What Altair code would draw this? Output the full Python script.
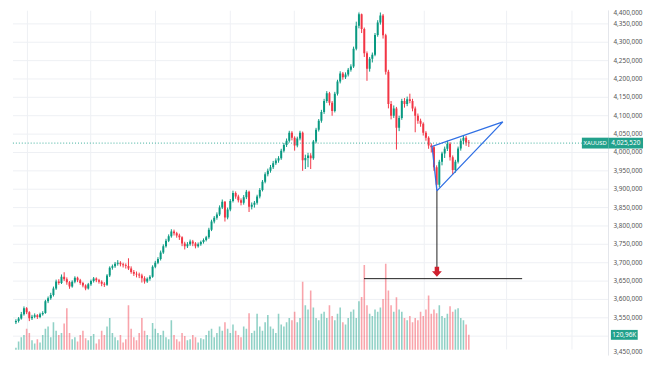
import altair as alt
import pandas as pd

# ---------------- data ----------------
first_open = 3538.0
closes = [3541, 3548, 3560, 3576, 3565, 3549, 3553, 3557, 3552, 3560,
          3563, 3595, 3603, 3612, 3630, 3649, 3645, 3662, 3655, 3647,
          3635, 3648, 3659, 3652, 3645, 3638, 3630, 3641, 3650, 3657,
          3652, 3648, 3643, 3640, 3665, 3686, 3690, 3697, 3700, 3696,
          3693, 3691, 3684, 3675, 3670, 3668, 3665, 3658, 3649, 3656,
          3662, 3689, 3700, 3710, 3728, 3745, 3760, 3772, 3785, 3780,
          3774, 3769, 3752, 3745, 3750, 3758, 3752, 3745, 3750, 3756,
          3762, 3769, 3790, 3812, 3822, 3831, 3850, 3866, 3823, 3845,
          3868, 3890, 3880, 3870, 3863, 3878, 3893, 3852, 3858, 3863,
          3880, 3898, 3920, 3941, 3950, 3960, 3971, 3978, 3984, 4005,
          4020, 4032, 4054, 4040, 4019, 4038, 4054, 3979, 3985, 3992,
          3984, 4030, 4062, 4086, 4110, 4140, 4161, 4135, 4113, 4160,
          4193, 4215, 4205, 4212, 4225, 4234, 4282, 4345, 4376, 4336,
          4270, 4228, 4255, 4266, 4320, 4354, 4373, 4319, 4220, 4132,
          4100, 4120, 4067, 4094, 4140, 4132, 4145, 4140, 4120, 4100,
          4086, 4078, 4054, 4040, 4019, 4014, 3960, 3912, 3975, 3997,
          4010, 4024, 3987, 3952, 3975, 4011, 4032, 4040, 4027, 4025.52]
highs = [3546, 3552, 3566, 3581, 3579, 3568, 3558, 3562, 3560, 3564,
         3568, 3599, 3608, 3618, 3635, 3654, 3655, 3668, 3674, 3660,
         3650, 3652, 3663, 3662, 3656, 3648, 3641, 3645, 3654, 3661,
         3660, 3656, 3652, 3647, 3669, 3690, 3695, 3702, 3707, 3704,
         3700, 3698, 3712, 3690, 3680, 3676, 3673, 3670, 3663, 3660,
         3666, 3693, 3705, 3715, 3733, 3750, 3765, 3777, 3791, 3790,
         3784, 3779, 3772, 3757, 3756, 3763, 3762, 3756, 3755, 3760,
         3766, 3773, 3795, 3817, 3827, 3837, 3856, 3872, 3868, 3850,
         3873, 3896, 3894, 3885, 3875, 3884, 3898, 3896, 3864, 3868,
         3885, 3903, 3925, 3946, 3956, 3966, 3977, 3984, 3990, 4010,
         4026, 4038, 4059, 4058, 4044, 4043, 4059, 4057, 3994, 3999,
         3998, 4034, 4067, 4091, 4116, 4146, 4167, 4165, 4140, 4165,
         4198, 4221, 4219, 4218, 4230, 4240, 4288, 4356, 4381, 4378,
         4340, 4275, 4260, 4272, 4325, 4360, 4381, 4377, 4323, 4225,
         4140, 4128, 4124, 4100, 4146, 4148, 4152, 4160, 4146, 4125,
         4106, 4092, 4082, 4058, 4044, 4025, 4018, 3965, 3980, 4002,
         4016, 4032, 4028, 3992, 3980, 4016, 4038, 4046, 4045, 4034]
lows = [3533, 3537, 3545, 3556, 3560, 3541, 3544, 3549, 3547, 3549,
        3556, 3561, 3590, 3599, 3608, 3626, 3640, 3642, 3650, 3640,
        3629, 3632, 3644, 3647, 3640, 3633, 3625, 3627, 3637, 3646,
        3647, 3643, 3636, 3634, 3637, 3661, 3681, 3686, 3692, 3690,
        3687, 3684, 3680, 3670, 3664, 3660, 3658, 3646, 3643, 3645,
        3651, 3659, 3685, 3696, 3706, 3724, 3741, 3756, 3768, 3774,
        3768, 3762, 3745, 3736, 3740, 3746, 3745, 3739, 3741, 3746,
        3752, 3758, 3765, 3786, 3807, 3817, 3827, 3846, 3812, 3818,
        3840, 3864, 3874, 3864, 3856, 3858, 3873, 3838, 3845, 3850,
        3858, 3875, 3894, 3916, 3935, 3945, 3955, 3966, 3972, 3980,
        4000, 4015, 4027, 4033, 4005, 4014, 4033, 3950, 3955, 3960,
        3955, 3980, 4025, 4057, 4081, 4105, 4135, 4128, 4100, 4109,
        4155, 4188, 4198, 4200, 4207, 4220, 4230, 4278, 4338, 4325,
        4260, 4195, 4220, 4245, 4262, 4315, 4348, 4310, 4212, 4120,
        4090, 4094, 4008, 4058, 4089, 4122, 4126, 4134, 4112, 4055,
        4078, 4070, 4046, 4032, 4010, 4000, 3950, 3897, 3905, 3965,
        3985, 4004, 3978, 3940, 3945, 3970, 4005, 4022, 4018, 4015]
volumes_k = [60, 90, 110, 120, 150, 130, 95, 80, 100, 85,
             120, 150, 160, 110, 180, 140, 120, 130, 175, 246,
             130, 100, 110, 90, 120, 140, 105, 95, 115, 125,
             80, 100, 140, 120, 160, 200, 130, 110, 95, 120,
             85, 100, 260, 150, 110, 95, 130, 200, 140, 120,
             100, 177, 150, 130, 120, 140, 110, 100, 190, 120,
             100, 90, 130, 115, 95, 100, 120, 110, 85, 105,
             100, 120, 140, 150, 110, 130, 160, 140, 180, 150,
             130, 170, 140, 120, 110, 160, 150, 223, 130, 140,
             220, 160, 140, 180, 215, 160, 150, 130, 220, 170,
             160, 180, 200, 190, 230, 180, 200, 372, 260, 240,
             330, 250, 200, 190, 220, 230, 200, 260, 210, 190,
             220, 250, 180, 170, 200, 230, 240, 200, 280, 300,
             451, 260, 220, 210, 240, 230, 250, 290, 456, 330,
             260, 230, 298, 240, 230, 200, 190, 210, 180, 200,
             190, 230, 210, 240, 307, 220, 240, 223, 260, 210,
             200, 220, 256, 230, 240, 246, 200, 190, 170, 121]

price_ticks = list(range(3450, 4401, 50))
hidden_labels = [3500]          # covered by the volume tag in the original
vgrid_idx = [4.3, 27.9, 52.1, 80.0, 103.9, 128.1, 152.4, 183.1, 207.5]

wedge_idx = [157.1, 155.3, 181.7, 157.1]
wedge_price = [3895.4, 4016.2, 4083.3, 3895.4]
target_price = 3656.6
target_idx = [129.9, 188.9]
drop_idx = 157.1
drop_from = 3895.4
drop_to = 3686.0
arrow_price = 3675.4
last_price = 4025.52
last_volume = 120.96

# ---------------- geometry ----------------
ORIGIN_X = 3          # observed page x of the svg's left edge
PADL = 5
W, H = 612 - ORIGIN_X - PADL, 344
step = 467 / 169
kpx = 0.3726
# page x of candle i = 6 + step*i
x0 = ORIGIN_X + PADL
xdom = [(x0 - 6) / step, (x0 + W - 6) / step]
# page y of price p = 3 + (4400 - p) * kpx ; chart origin at page y = 8
ydom = [4400 - (H + 5) / kpx, 4400 - 5 / kpx]
# volume: zero volume at page y 363 (chart y 355), 0.215 px per K
vpx = 0.215
vbase = 355
vdom = [(vbase - H) / vpx, vbase / vpx]

UP = "#089981"
DN = "#f23645"
TAG = "#22a18c"

opens = [first_open] + closes[:-1]
df = pd.DataFrame({
    "i": list(range(len(closes))),
    "open": opens, "close": closes, "high": highs, "low": lows,
    "vol": volumes_k,
})
df["dir"] = ["up" if c >= o else "down" for o, c in zip(opens, closes)]


def X(f):
    return alt.X(f, type="quantitative", scale=alt.Scale(domain=xdom, nice=False, zero=False), axis=None)


def Y(f):
    return alt.Y(f, type="quantitative", scale=alt.Scale(domain=ydom, nice=False, zero=False), axis=None)


def V(f):
    return alt.Y(f, type="quantitative", scale=alt.Scale(domain=vdom, nice=False, zero=False), axis=None)


color = alt.Color("dir:N", scale=alt.Scale(domain=["up", "down"], range=[UP, DN]), legend=None)

ticks_df = pd.DataFrame({"p": price_ticks,
                         "label": [f"{t:,.3f}".replace(".", ",") for t in price_ticks]})
lab_df = ticks_df[~ticks_df["p"].isin(hidden_labels)]
vgrid_df = pd.DataFrame({"i": vgrid_idx})

hgrid = alt.Chart(ticks_df).mark_rule(color="#eef0f4", strokeWidth=1, clip=True).encode(
    y=Y("p"), x=alt.value(0), x2=alt.value(W))
vgrid = alt.Chart(vgrid_df).mark_rule(color="#eef0f4", strokeWidth=1, clip=True).encode(
    x=X("i"), y=alt.value(0), y2=alt.value(H))
sep = alt.Chart(pd.DataFrame({"a": [0]})).mark_rule(color="#e4e6eb").encode(
    x=alt.value(W), y=alt.value(0), y2=alt.value(H + 6))

vol = alt.Chart(df).mark_bar(width=1.6, opacity=0.45, clip=True).encode(
    x=X("i"), y=V("vol"), y2=alt.value(H), color=color)

wick = alt.Chart(df).mark_rule(strokeWidth=1, clip=True).encode(
    x=X("i"), y=Y("low"), y2=alt.Y2("high"), color=color)
body = alt.Chart(df).mark_bar(width=2, clip=True).encode(
    x=X("i"), y=Y("open"), y2=alt.Y2("close"), color=color)

last_df = pd.DataFrame({"p": [last_price]})
lastline = alt.Chart(last_df).mark_rule(color=UP, strokeDash=[1, 2], strokeWidth=1, opacity=0.8).encode(
    y=Y("p"), x=alt.value(0), x2=alt.value(W))

wedge_df = pd.DataFrame({"i": wedge_idx, "p": wedge_price, "o": list(range(len(wedge_idx)))})
wedge = alt.Chart(wedge_df).mark_line(color="#2f6fe4", strokeWidth=1.3).encode(
    x=X("i"), y=Y("p"), order="o:Q")

drop_df = pd.DataFrame({"i": [drop_idx], "a": [drop_from], "b": [drop_to]})
drop = alt.Chart(drop_df).mark_rule(color="#1e1e1e", strokeWidth=1).encode(
    x=X("i"), y=Y("a"), y2=alt.Y2("b"))
arrow_df = pd.DataFrame({"i": [drop_idx], "p": [arrow_price]})
arrow = alt.Chart(arrow_df).mark_point(
    shape="M-0.45,-1L0.45,-1L0.45,-0.1L1,-0.1L0,1L-1,-0.1L-0.45,-0.1Z",
    filled=True, size=100, color="#d0202e", opacity=1).encode(x=X("i"), y=Y("p"))

target_df = pd.DataFrame({"a": [target_idx[0]], "b": [target_idx[1]], "p": [target_price]})
target = alt.Chart(target_df).mark_rule(color="#1e1e1e", strokeWidth=1).encode(
    x=X("a"), x2=alt.X2("b"), y=Y("p"))

lab_style = dict(align="left", fontSize=6.5, font="Noto Sans", color="#555555")
labels_mid = alt.Chart(lab_df[(lab_df["p"] > 3450) & (lab_df["p"] < 4400)]).mark_text(
    baseline="middle", **lab_style).encode(x=alt.value(W + 5), y=Y("p"), text="label:N")
labels_top = alt.Chart(lab_df[lab_df["p"] == 4400]).mark_text(
    baseline="top", **lab_style).encode(x=alt.value(W + 5), y=alt.value(0), text="label:N")
labels_bot = alt.Chart(lab_df[lab_df["p"] == 3450]).mark_text(
    baseline="middle", dy=-2.5, **lab_style).encode(x=alt.value(W + 5), y=Y("p"), text="label:N")

tag_df = pd.DataFrame({"p": [last_price],
                       "t": [f"{last_price:,.3f}".replace(".", ",")],
                       "s": ["XAUUSD"]})
tag_rect = alt.Chart(tag_df).mark_point(
    shape="M-1.59,-0.5L1.59,-0.5L1.59,0.5L-1.59,0.5Z", filled=True, size=484,
    color=TAG, opacity=1).encode(x=alt.value(W + 17.5), y=Y("p"))
tag_text = alt.Chart(tag_df).mark_text(align="center", baseline="middle", fontSize=6.5,
                                       font="Noto Sans", color="white").encode(
    x=alt.value(W + 17.5), y=Y("p"), text="t:N")
sym_rect = alt.Chart(tag_df).mark_point(
    shape="M-1.23,-0.5L1.23,-0.5L1.23,0.5L-1.23,0.5Z", filled=True, size=484,
    color=TAG, opacity=1).encode(x=alt.value(W - 13.5), y=Y("p"))
sym_text = alt.Chart(tag_df).mark_text(align="center", baseline="middle", fontSize=6,
                                       font="Noto Sans", color="white").encode(
    x=alt.value(W - 13.5), y=Y("p"), text="s:N")

vtag_df = pd.DataFrame({"v": [last_volume], "t": [f"{last_volume:.2f}".replace(".", ",") + "K"]})
vtag_rect = alt.Chart(vtag_df).mark_point(
    shape="M-1.36,-0.5L1.36,-0.5L1.36,0.5L-1.36,0.5Z", filled=True, size=400,
    color=TAG, opacity=1).encode(x=alt.value(W + 16), y=V("v"))
vtag_text = alt.Chart(vtag_df).mark_text(align="center", baseline="middle", fontSize=6.5,
                                         font="Noto Sans", color="white").encode(
    x=alt.value(W + 16), y=V("v"), text="t:N")

chart = alt.layer(
    hgrid, vgrid, sep, vol, wick, body, lastline, wedge, drop, arrow, target,
    labels_mid, labels_top, labels_bot, tag_rect, tag_text, sym_rect, sym_text,
    vtag_rect, vtag_text
).resolve_scale(y="independent").properties(
    width=W, height=H,
    autosize=alt.AutoSizeParams(type="none"),
    padding={"left": PADL, "top": 0, "right": 38, "bottom": 6},
    background="white",
).configure_view(stroke=None)

chart.save("out.html", embed_options={"renderer": "svg", "actions": False})
